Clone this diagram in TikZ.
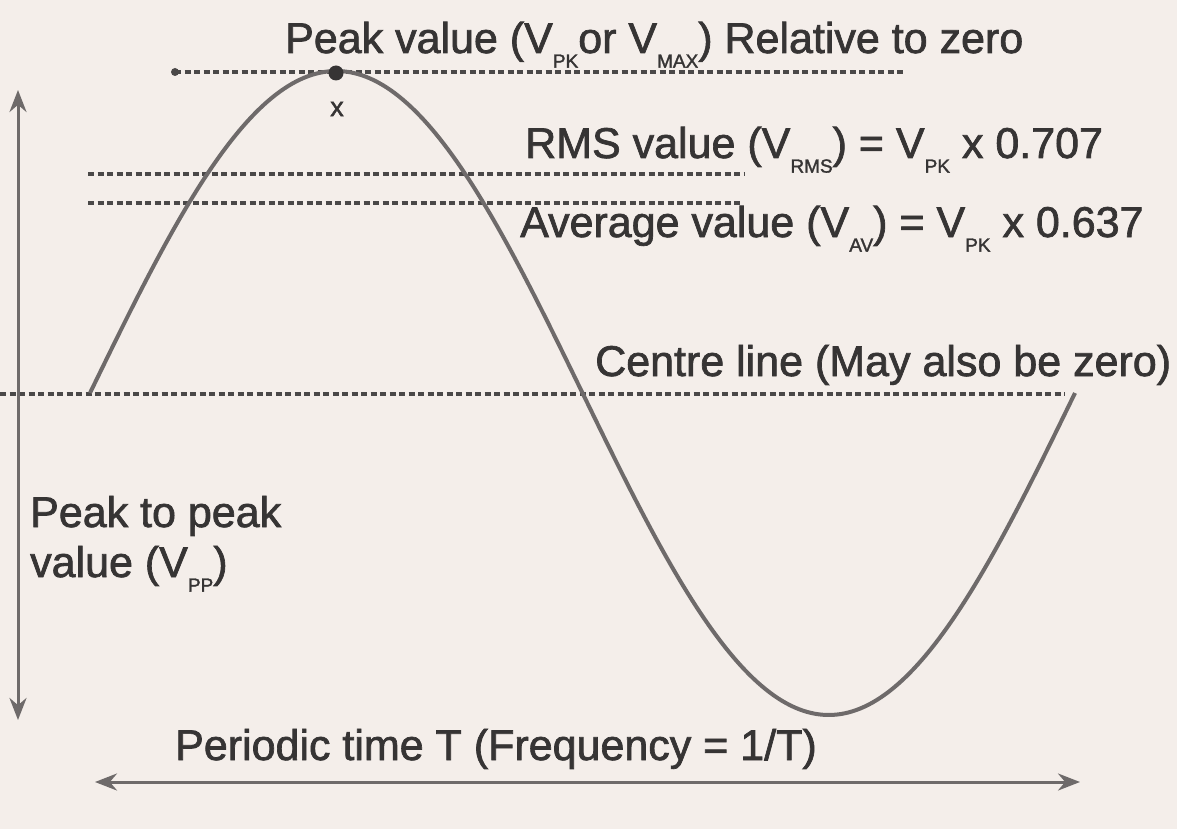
\documentclass[tikz,border=0pt]{standalone}
\usepackage{fontspec}
\setmainfont[FakeBold=1.6,AutoFakeBold=1.6]{Liberation Sans}
\usetikzlibrary{arrows.meta}
\definecolor{paper}{HTML}{F4EEEA}
\definecolor{ink}{HTML}{363434}
\definecolor{wave}{HTML}{6E6A6A}
\definecolor{dashcol}{HTML}{4A4848}
\newcommand\lowsub[1]{\raisebox{-0.34em}{\fontsize{19}{19}\selectfont #1}}
\tikzset{
  lbl/.style={anchor=base west, inner sep=0pt, text=ink, font=\fontsize{43}{50}\selectfont\bfseries},
  refline/.style={draw=dashcol, line width=3.4pt, dash pattern=on 6pt off 3.5pt},
  twoway/.style={draw=wave, line width=3pt, {Stealth[length=22pt,width=17pt]}-{Stealth[length=22pt,width=17pt]}},
  sine/.style={draw=wave, line width=4pt}
}
\begin{document}
\begin{tikzpicture}[x=1pt,y=-1pt]
\fill[paper] (0,0) rectangle (1177,829);
\useasboundingbox (0,0) rectangle (1177,829);

% reference lines
\coordinate (pkL) at (175,72);
\coordinate (pkR) at (905,72);
\coordinate (rmsL) at (88,174);
\coordinate (rmsR) at (745,174);
\coordinate (avL) at (88,203);
\coordinate (avR) at (742,203);
\coordinate (cL) at (0,394);
\coordinate (cR) at (1065,394);
\draw[refline] (pkL) -- (pkR);
\draw[refline] (rmsL) -- (rmsR);
\draw[refline] (avL) -- (avR);
\draw[refline] (cL) -- (cR);
\fill[dashcol] (pkL) circle (4pt);

% sine wave
\draw[sine] plot[domain=0:360, samples=240] ({90+2.7361*\x}, {393-322*sin(\x)});
\node[circle, fill=ink, inner sep=0pt, minimum size=15pt] (peak) at (336,73) {};
\node[text=ink, font=\fontsize{27}{30}\selectfont, inner sep=0pt] (xmark) at (337,109) {x};

% arrows
\coordinate (vTop) at (18,90);
\coordinate (vBot) at (18,720);
\draw[twoway] (vBot) -- (vTop);
\coordinate (hL) at (95,782);
\coordinate (hR) at (1080,782);
\draw[twoway] (hL) -- (hR);

% labels
\node[lbl] (tpk) at (285,53) {Peak value (V\lowsub{PK}or V\lowsub{MAX}) Relative to zero};
\node[lbl] (trms) at (525,158) {RMS value (V\lowsub{RMS}) = V\lowsub{PK} x 0.707};
\node[lbl] (tav) at (520,237) {Average value (V\lowsub{AV}) = V\lowsub{PK} x 0.637};
\node[lbl] (tc) at (595,376) {Centre line (May also be zero)};
\node[lbl] (tpp1) at (30,527) {Peak to peak};
\node[lbl] (tpp2) at (30,577) {value (V\lowsub{PP})};
\node[lbl] (tT) at (175,760) {Periodic time T (Frequency = 1/T)};
\end{tikzpicture}
\end{document}
